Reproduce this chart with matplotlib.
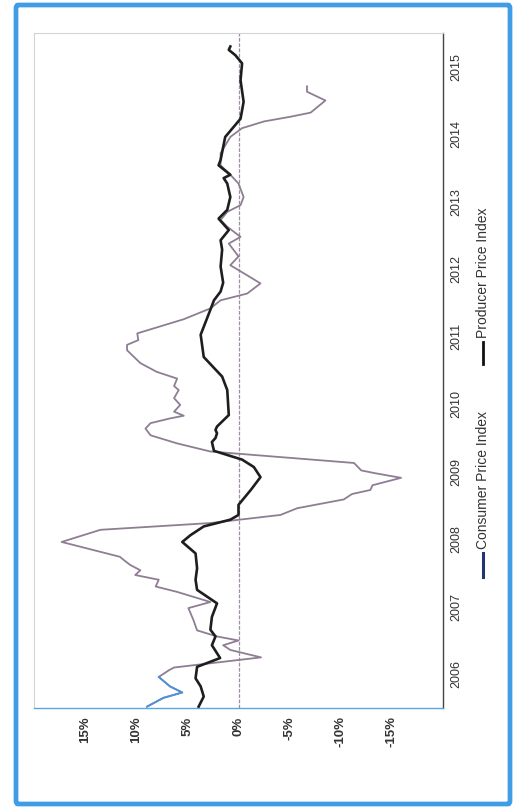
import matplotlib
matplotlib.use("Agg")
import matplotlib.pyplot as plt
from matplotlib.lines import Line2D
from matplotlib.patches import FancyBboxPatch

# ---- data ----
cpi_dates = [2006.02, 2006.15, 2006.23, 2006.32, 2006.46, 2006.56, 2006.60, 2006.75, 2006.86, 2006.93,
             2007.00, 2007.06, 2007.15, 2007.30, 2007.48, 2007.57, 2007.72, 2007.80, 2007.90, 2007.97,
             2008.04, 2008.12, 2008.19, 2008.24, 2008.46, 2008.64, 2008.74, 2008.86, 2008.96, 2009.09,
             2009.17, 2009.23, 2009.30, 2009.41, 2009.48, 2009.52, 2009.63, 2009.80, 2009.92, 2010.04,
             2010.14, 2010.22, 2010.29, 2010.33, 2010.39, 2010.49, 2010.59, 2010.71, 2010.77, 2010.88,
             2010.98, 2011.11, 2011.30, 2011.38, 2011.45, 2011.55, 2011.67, 2011.76, 2011.92, 2012.04,
             2012.14, 2012.29, 2012.41, 2012.56, 2012.69, 2012.88, 2012.98, 2013.13, 2013.23, 2013.35,
             2013.45, 2013.57, 2013.77, 2013.90, 2014.04, 2014.22, 2014.46, 2014.59, 2014.69, 2014.76,
             2014.82, 2015.00, 2015.13, 2015.21]
cpi_values = [8.95, 7.35, 5.5, 6.7, 7.8, 6.8, 6.3, -2.2, 0.8, 1.5,
              0.0, 2.1, 4.05, 4.4, 4.9, 2.75, 6.0, 8.1, 7.8, 10.1,
              9.6, 10.6, 11.2, 11.6, 17.3, 13.5, 2.75, -4.1, -5.75, -10.3,
              -11.1, -12.9, -13.1, -15.9, -13.3, -12.0, -11.3, 2.75, 6.0, 8.6,
              9.1, 8.6, 6.7, 5.35, 6.3, 5.7, 6.3, 5.85, 6.3, 6.0,
              8.0, 9.6, 10.9, 10.9, 9.8, 9.9, 7.3, 5.35, 2.75, 1.75,
              -0.85, -2.15, -0.85, 0.8, 0.0, 0.95, -0.2, 1.1, 1.75, 1.1,
              -0.2, -0.5, 0.0, 0.8, 1.75, 1.75, 0.8, -0.35, -2.5, -5.1,
              -7.05, -8.5, -6.7, -6.7]

ppi_dates = [2006.02, 2006.17, 2006.32, 2006.44, 2006.61, 2006.74, 2006.93, 2007.06, 2007.16, 2007.35,
             2007.55, 2007.75, 2007.90, 2008.07, 2008.29, 2008.46, 2008.56, 2008.69, 2008.79, 2008.86,
             2009.01, 2009.23, 2009.42, 2009.57, 2009.68, 2009.81, 2009.94, 2010.00, 2010.07, 2010.12,
             2010.17, 2010.34, 2010.71, 2010.91, 2011.20, 2011.53, 2011.90, 2012.04, 2012.17, 2012.30,
             2012.54, 2012.79, 2012.93, 2013.08, 2013.25, 2013.38, 2013.57, 2013.77, 2013.85, 2013.90,
             2014.04, 2014.12, 2014.46, 2014.73, 2014.98, 2015.30, 2015.55, 2015.67, 2015.75, 2015.80]
ppi_values = [3.9, 3.4, 3.7, 4.2, 4.05, 1.8, 2.6, 2.25, 2.75, 2.6,
              2.1, 4.05, 4.2, 4.05, 4.2, 5.5, 4.7, 3.4, 0.8, 0.0,
              0.0, -1.2, -2.15, -1.5, -0.35, 2.4, 2.6, 2.25, 2.1, 2.25,
              2.1, 0.95, 1.1, 1.6, 3.4, 3.7, 2.75, 2.4, 1.75, 1.5,
              1.75, 1.6, 1.75, 0.95, 1.95, 1.1, 0.8, 1.1, 1.45, 0.8,
              1.95, 1.75, 1.3, -0.2, -0.5, -0.2, -0.35, 0.3, 0.95, 0.8]

pct_ticks = [15, 10, 5, 0, -5, -10, -15]
pct_labels = ["15%", "10%", "5%", "0%", "-5%", "-10%", "-15%"]
years = [2006, 2007, 2008, 2009, 2010, 2011, 2012, 2013, 2014, 2015]
series_names = ["Consumer Price Index", "Producer Price Index"]

# ---- figure ----
W, H = 513, 808
fig = plt.figure(figsize=(W / 100, H / 100), dpi=100)
fig.patch.set_facecolor("white")
plt.rcParams["font.family"] = ["Liberation Sans", "DejaVu Sans"]

def fx(px):
    return px / W

def fy(py):
    return 1 - py / H

# blue frame
frame = FancyBboxPatch((fx(16), fy(804)), fx(510) - fx(16), fy(5) - fy(804),
                       boxstyle="round,pad=0,rounding_size=0.004",
                       transform=fig.transFigure, fill=False,
                       edgecolor="#3f9de6", linewidth=3.4, zorder=0)
fig.add_artist(frame)

ax = fig.add_axes([fx(34), fy(708), fx(443) - fx(34), fy(33) - fy(708)])
ax.set_facecolor("white")

cpi_col = "#8f7d94"
ppi_col = "#1e1e1e"

ax.axvline(0, color="#a08ea6", linewidth=0.9, linestyle=(0, (3, 1.2)), zorder=1)
ax.plot(cpi_values, cpi_dates, color=cpi_col, linewidth=1.3, zorder=2)
ax.plot(cpi_values[:5], cpi_dates[:5], color="#4a93dc", linewidth=1.3, zorder=2)
ax.plot(ppi_values, ppi_dates, color=ppi_col, linewidth=1.9, zorder=3)

ax.set_xlim(20, -20)
ax.set_ylim(2006, 2016)

ax.set_xticks(pct_ticks)
ax.set_xticklabels(pct_labels, rotation=90, fontsize=9.5, fontweight="bold", color="#333333")
ax.yaxis.tick_right()
ax.set_yticks([y + 0.5 for y in years])
ax.set_yticklabels([str(y) for y in years], rotation=90, fontsize=9, color="#333333", va="center")
ax.tick_params(axis="both", length=0)
ax.tick_params(axis="x", pad=6)
ax.tick_params(axis="y", pad=5)

for side in ["top", "left"]:
    ax.spines[side].set_color("#d4d4d4")
    ax.spines[side].set_linewidth(0.8)
    ax.spines[side].set_linestyle((0, (2, 1)))
ax.spines["bottom"].set_color("#5aa5e8")
ax.spines["bottom"].set_linewidth(1.0)
ax.spines["bottom"].set_linestyle((0, (3, 1)))
ax.spines["right"].set_color("#444444")
ax.spines["right"].set_linewidth(1.0)
ax.spines["right"].set_linestyle((0, (3, 1)))

# legend (rotated, drawn by hand)
lx = fx(483)
fig.add_artist(Line2D([lx, lx], [fy(577), fy(553)], transform=fig.transFigure,
                      color="#23356e", linewidth=2.2))
fig.text(lx, fy(549), series_names[0], rotation=90, ha="center", va="bottom",
         fontsize=10, color="#333333")
fig.add_artist(Line2D([lx, lx], [fy(364), fy(342)], transform=fig.transFigure,
                      color="#111111", linewidth=2.0))
fig.text(lx, fy(338), series_names[1], rotation=90, ha="center", va="bottom",
         fontsize=10, color="#333333")

fig.savefig("out.png", dpi=100, facecolor="white")
